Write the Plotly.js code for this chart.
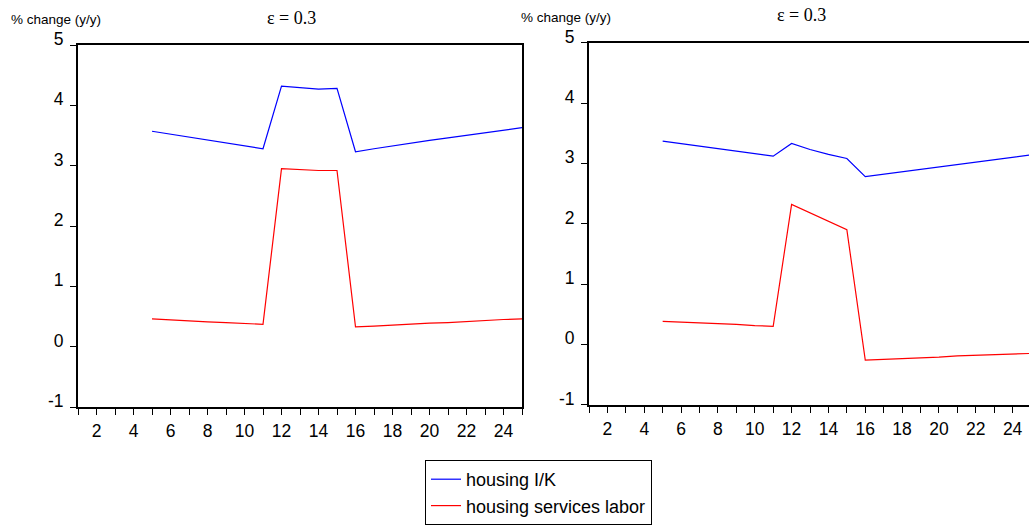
<!DOCTYPE html>
<html>
<head>
<meta charset="utf-8">
<script src="https://cdn.plot.ly/plotly-3.0.1.min.js"></script>
<style>html,body{margin:0;padding:0;background:#fff;}#chart{width:1029px;height:525px;}</style>
</head>
<body>
<div id="chart"></div>
<script>
// Periods (x values)
const periods = [5,6,7,8,9,10,11,12,13,14,15,16,17,18,19,20,21,22,23,24,25];

// Left panel (epsilon = 0.3)
const leftHousingIK = [3.57,3.52,3.47,3.42,3.38,3.33,3.28,4.32,4.29,4.27,4.28,3.23,3.28,3.33,3.37,3.42,3.46,3.50,3.54,3.58,3.63];
const leftHousingLabor = [0.46,0.44,0.43,0.41,0.40,0.38,0.37,2.95,2.93,2.92,2.92,0.33,0.34,0.36,0.37,0.39,0.40,0.42,0.43,0.45,0.46];

// Right panel (epsilon = 0.3)
const rightHousingIK = [3.37,3.33,3.29,3.25,3.20,3.16,3.12,3.33,3.23,3.15,3.08,2.78,2.82,2.86,2.90,2.94,2.98,3.02,3.05,3.09,3.14];
const rightHousingLabor = [0.38,0.37,0.35,0.34,0.33,0.31,0.30,2.32,2.18,2.04,1.90,-0.26,-0.25,-0.23,-0.22,-0.21,-0.19,-0.18,-0.17,-0.16,-0.15];

const panelTitle = "\u03b5 = 0.3";
const yTitle = "% change (y/y)";
const seriesNames = ["housing I/K", "housing services labor"];
const yTicks = [-1,0,1,2,3,4,5];
const xTicks = [2,4,6,8,10,12,14,16,18,20,22,24];

const W = 1029, H = 525;
const px = v => v / W;
const py = v => 1 - v / H;

const traces = [
  {x: periods, y: leftHousingIK, name: seriesNames[0], type: 'scatter', mode: 'lines', line: {color: '#0000ff', width: 1.2}, xaxis: 'x', yaxis: 'y'},
  {x: periods, y: leftHousingLabor, name: seriesNames[1], type: 'scatter', mode: 'lines', line: {color: '#ff0000', width: 1.2}, xaxis: 'x', yaxis: 'y'},
  {x: periods, y: rightHousingIK, name: seriesNames[0], type: 'scatter', mode: 'lines', line: {color: '#0000ff', width: 1.2}, xaxis: 'x2', yaxis: 'y2', showlegend: false},
  {x: periods, y: rightHousingLabor, name: seriesNames[1], type: 'scatter', mode: 'lines', line: {color: '#ff0000', width: 1.2}, xaxis: 'x2', yaxis: 'y2', showlegend: false}
];

const tickFont = {family: 'Liberation Sans, Arial, sans-serif', size: 17.5, color: '#000'};

function xAxis(domain, range, anchor, mirror) {
  return {
    domain: domain, range: range, anchor: anchor,
    tickmode: 'array', tickvals: xTicks, ticktext: xTicks.map(String),
    ticks: 'outside', ticklen: 6, tickwidth: 1, tickcolor: '#000',
    minor: {tickmode: 'linear', tick0: 1, dtick: 2, ticks: 'outside', ticklen: 6, tickwidth: 1, tickcolor: '#000'},
    showline: true, linecolor: '#000', linewidth: 2, mirror: mirror,
    showgrid: false, zeroline: false, tickfont: tickFont, ticklabelstandoff: 1
  };
}
function yAxis(domain, anchor, mirror) {
  return {
    domain: domain, range: [-1, 5], anchor: anchor,
    tickmode: 'array', tickvals: yTicks, ticktext: yTicks.map(String),
    ticks: 'outside', ticklen: 6, tickwidth: 1, tickcolor: '#000',
    showline: true, linecolor: '#000', linewidth: 2, mirror: mirror,
    showgrid: false, zeroline: false, tickfont: tickFont,
    ticklabelshift: -6, ticklabelstandoff: 3
  };
}

const layout = {
  width: W, height: H,
  margin: {l: 0, r: 0, t: 0, b: 0, autoexpand: false},
  paper_bgcolor: '#fff', plot_bgcolor: '#fff',
  showlegend: true,
  legend: {
    x: px(425), xanchor: 'left', y: py(460), yanchor: 'top',
    bordercolor: '#000', borderwidth: 1, bgcolor: '#fff',
    font: {family: 'Liberation Sans, Arial, sans-serif', size: 18, color: '#000'},
    tracegroupgap: 0
  },
  xaxis: xAxis([px(78), px(522)], [1, 25], 'y', true),
  yaxis: yAxis([py(407), py(45)], 'x', true),
  xaxis2: xAxis([px(589), 1], [1, 24.89], 'y2', true),
  yaxis2: yAxis([py(404.7), py(42.7)], 'x2', false),
  annotations: [
    {text: panelTitle, xref: 'paper', yref: 'paper', x: px(291), y: py(18), xanchor: 'center', yanchor: 'middle', showarrow: false, font: {family: 'Liberation Serif, Times New Roman, serif', size: 18, color: '#000'}},
    {text: panelTitle, xref: 'paper', yref: 'paper', x: px(801), y: py(15), xanchor: 'center', yanchor: 'middle', showarrow: false, font: {family: 'Liberation Serif, Times New Roman, serif', size: 18, color: '#000'}},
    {text: yTitle, xref: 'paper', yref: 'paper', x: px(9), y: py(20), xanchor: 'left', yanchor: 'middle', showarrow: false, font: {family: 'Liberation Sans, Arial, sans-serif', size: 13.5, color: '#000'}},
    {text: yTitle, xref: 'paper', yref: 'paper', x: px(519), y: py(18), xanchor: 'left', yanchor: 'middle', showarrow: false, font: {family: 'Liberation Sans, Arial, sans-serif', size: 13.5, color: '#000'}}
  ]
};

Plotly.newPlot('chart', traces, layout, {staticPlot: true, displayModeBar: false});
</script>
</body>
</html>
